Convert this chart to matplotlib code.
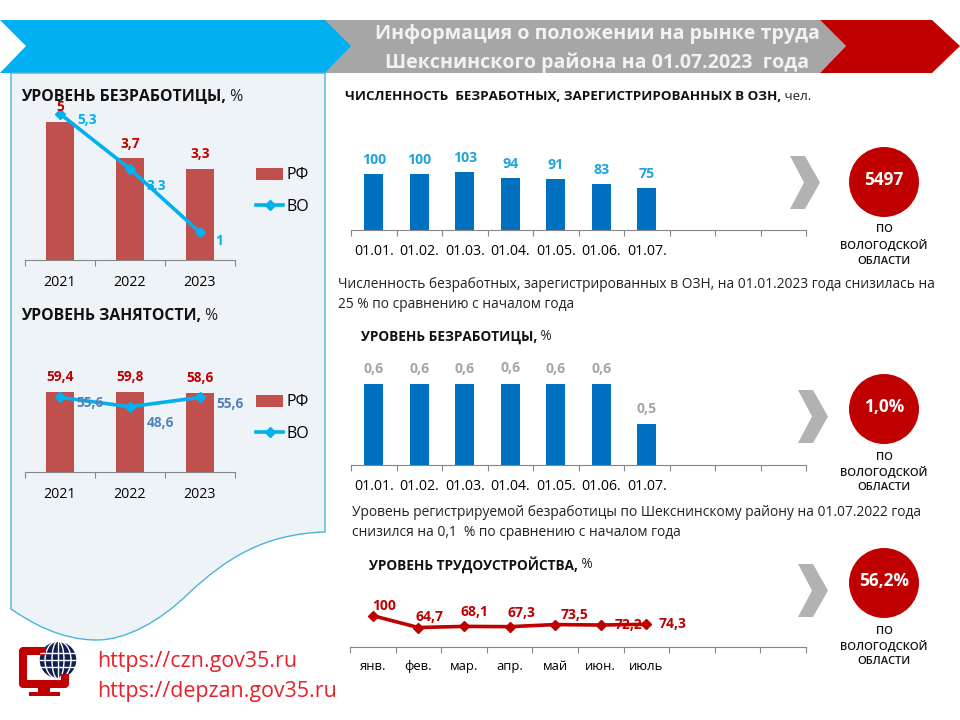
"""Labour market infographic, Sheksna district, 01.07.2023."""
import matplotlib
matplotlib.use("Agg")
import matplotlib.pyplot as plt
from matplotlib.patches import Circle, Ellipse, Polygon, PathPatch, Rectangle
from matplotlib.path import Path

plt.rcParams["font.family"] = ["Open Sans", "DejaVu Sans"]

YEARS = ["2021", "2022", "2023"]
UNEMP_RF = [5, 3.7, 3.3]
UNEMP_VO = [5.3, 3.3, 1]
EMPL_RF = [59.4, 59.8, 58.6]
EMPL_VO = [55.6, 48.6, 55.6]
DATES = ["01.01.", "01.02.", "01.03.", "01.04.", "01.05.", "01.06.", "01.07.", "", "", ""]
REGISTERED = [100, 100, 103, 94, 91, 83, 75]
UNEMP_DISTRICT = [0.6, 0.6, 0.6, 0.6, 0.6, 0.6, 0.5]
MONTHS = ["янв.", "фев.", "мар.", "апр.", "май", "июн.", "июль", "", "", ""]
PLACEMENT = [100, 64.7, 68.1, 67.3, 73.5, 72.2, 74.3]

RED = "#C00000"
BAR_RED = "#C0504D"
CYAN = "#00B0F0"
BLUE = "#0070C0"
AXIS = "#868686"


def lab(v):
    return f"{v:g}".replace(".", ",")


fig = plt.figure(figsize=(9.6, 7.2), dpi=100)
bg = fig.add_axes([0, 0, 1, 1])
bg.set_xlim(0, 960)
bg.set_ylim(720, 0)
bg.axis("off")


def chart_axes(left, right, top, base):
    ax = fig.add_axes([left / 960, 1 - base / 720, (right - left) / 960, (base - top) / 720])
    ax.patch.set_visible(False)
    for side in ("top", "left", "right"):
        ax.spines[side].set_visible(False)
    ax.spines["bottom"].set_color(AXIS)
    ax.yaxis.set_visible(False)
    return ax


def categories(ax, labels, size, pad):
    n = len(labels)
    ax.set_xlim(-0.5, n - 0.5)
    ax.set_xticks([i - 0.5 for i in range(n + 1)])
    ax.set_xticklabels([])
    ax.set_xticks(range(n), labels, minor=True)
    ax.tick_params(axis="x", which="major", length=4.5, color=AXIS)
    ax.tick_params(axis="x", which="minor", length=0, labelsize=size, pad=pad)


def labels(ax, xs, ys, offsets, color, size):
    for x, y, off in zip(xs, ys, offsets):
        ax.annotate(lab(y), (x, y), xytext=off, textcoords="offset pixels", color=color,
                    fontsize=size, fontweight="bold", ha="center", va="center",
                    annotation_clip=False)


def heading(x, y, bold, rest, size):
    t = bg.text(x, y, bold, fontsize=size, fontweight="bold", va="center", color="#111111")
    bg.annotate(" " + rest, xy=(1, 0.5), xycoords=t, fontsize=size, va="center", color="#222222")


def badge(cx, cy, value, chev_x, chev_y):
    x0, x1 = chev_x
    y0, y1 = chev_y
    ym = (y0 + y1) / 2
    bg.add_patch(Polygon([(x0, y0), (x0 + 15, y0), (x1, ym), (x0 + 15, y1), (x0, y1), (x0 + 14, ym)],
                         fc="#B2B2B2", ec="none"))
    bg.add_patch(Circle((cx, cy), 35, fc=RED, ec="none"))
    bg.text(cx, cy - 2, value, color="white", fontsize=12.4, fontweight="bold", ha="center", va="center")
    for dy, s in zip((48, 63, 79), ("ПО", "ВОЛОГОДСКОЙ", "ОБЛАСТИ")):
        bg.text(cx, cy + dy, s, fontsize=8, fontweight="semibold", ha="center", va="center", color="#111111")


# header arrows
bg.add_patch(Polygon([(325, 20), (820, 20), (846, 46), (820, 73), (325, 73)], fc="#A6A6A6", ec="none"))
bg.add_patch(Polygon([(820, 20), (932, 20), (960, 46), (932, 73), (820, 73), (846, 46)], fc=RED, ec="none"))
bg.add_patch(Polygon([(0, 20), (325, 20), (351, 46), (325, 73), (0, 73), (26, 46)], fc=CYAN, ec="none"))
bg.text(597, 34, "Информация о положении на рынке труда", color="#F2F2F2", fontsize=14.1,
        fontweight="bold", ha="center", va="center")
bg.text(597, 63, "Шекснинского района на 01.07.2023  года", color="#F2F2F2", fontsize=14.1,
        fontweight="bold", ha="center", va="center")

# left panel with the wavy bottom
panel = Path([(11, 73), (325, 73), (325, 532), (262, 534), (225, 560), (190, 592), (160, 622), (125, 640), (97, 640),
              (60, 640), (30, 622), (11, 609), (11, 73)],
             [Path.MOVETO, Path.LINETO, Path.LINETO, Path.CURVE4, Path.CURVE4, Path.CURVE4, Path.CURVE4, Path.CURVE4,
              Path.CURVE4, Path.CURVE4, Path.CURVE4, Path.CURVE4, Path.CLOSEPOLY])
bg.add_patch(PathPatch(panel, fc="#EEF3F8", ec="#4BB5D6", lw=1))

# left charts
for rf, vo, box, off_rf, off_vo, vo_col, top, leg_y in (
    (UNEMP_RF, UNEMP_VO, (100, 260), [(0, 15), (0, 14), (0, 15)], [(27, -6), (26, -17), (19, -9)], CYAN, 5.8, 191),
    (EMPL_RF, EMPL_VO, (378, 472), [(0, 15), (0, 15), (0, 15)], [(30, -6), (30, -16), (30, -7)], "#4F81BD", 70, 418),
):
    ax = chart_axes(25, 235, box[0], box[1])
    bars = ax.bar(range(3), rf, width=0.4, color=BAR_RED, label="РФ")
    line, = ax.plot(range(3), vo, color=CYAN, lw=2.6, marker="D", ms=5, label="ВО", clip_on=False)
    ax.set_ylim(0, top)
    categories(ax, YEARS, 10.2, 10.5)
    labels(ax, range(3), rf, off_rf, RED, 9.8)
    labels(ax, range(3), vo, off_vo, vo_col, 9.8)
    ax.legend([bars, line], ["РФ", "ВО"], loc="center left", bbox_to_anchor=(256, leg_y),
              bbox_transform=bg.transData, frameon=False, fontsize=11.5, handlelength=1.7,
              handleheight=0.8, handletextpad=0.2, labelspacing=0.95, borderpad=0, borderaxespad=0)

# registered unemployed
ax = chart_axes(351, 806, 163, 230)
ax.bar(range(7), REGISTERED, width=0.41, color=BLUE)
ax.set_ylim(0, 120)
categories(ax, DATES, 10.2, 10)
labels(ax, range(7), REGISTERED, [(0, 14)] * 7, "#1FA5DC", 10.2)

# district unemployment rate, axis does not start at zero
ax = chart_axes(351, 806, 343, 465)
ax.bar(range(7), UNEMP_DISTRICT, width=0.41, color=BLUE)
ax.set_ylim(0.4, 0.7)
categories(ax, DATES, 10.2, 10)
labels(ax, range(7), UNEMP_DISTRICT, [(0, 15)] * 3 + [(0, 16)] + [(0, 15)] * 3, "#A6A6A6", 10.2)

# job placement rate
ax = chart_axes(350, 806, 609, 647)
ax.plot(range(7), PLACEMENT, color=RED, lw=2.6, marker="D", ms=5.5, clip_on=False)
ax.set_ylim(6.6, 120)
categories(ax, MONTHS, 9.4, 9.5)
labels(ax, range(7), PLACEMENT, [(11, 10), (11, 11), (10, 14), (12, 14), (19, 10), (28, 0), (26, 0)], RED, 10)

# headings and notes
heading(21, 97, "УРОВЕНЬ БЕЗРАБОТИЦЫ,", "%", 11.4)
heading(21, 316, "УРОВЕНЬ ЗАНЯТОСТИ,", "%", 11.3)
heading(345, 96, "ЧИСЛЕННОСТЬ  БЕЗРАБОТНЫХ, ЗАРЕГИСТРИРОВАННЫХ В ОЗН,", "чел.", 9.6)
heading(361, 337, "УРОВЕНЬ БЕЗРАБОТИЦЫ,", "%", 9.8)
heading(369, 565, "УРОВЕНЬ ТРУДОУСТРОЙСТВА,", "%", 9.8)
for x, y, s in ((338, 285, "Численность безработных, зарегистрированных в ОЗН, на 01.01.2023 года снизилась на"),
                (338, 305, "25 % по сравнению с началом года"),
                (352, 512, "Уровень регистрируемой безработицы по Шекснинскому району на 01.07.2022 года"),
                (352, 532, "снизился на 0,1  % по сравнению с началом года")):
    bg.text(x, y, s, fontsize=9.95, va="center", color="#222222")

badge(884, 182, "5497", (790, 820), (156, 209))
badge(884, 409, "1,0%", (798, 828), (390, 443))
badge(884, 583, "56,2%", (798, 828), (564, 617))

# site icon and links
bg.plot([46, 23, 23, 65, 65], [651, 651, 684, 684, 674], color=RED, lw=5.8, solid_joinstyle="round",
        solid_capstyle="butt")
for r in ((38, 688, 12, 5), (29, 692, 31, 4)):
    bg.add_patch(Rectangle(r[:2], r[2], r[3], fc=RED, ec="none"))
globe = Circle((58, 660), 19, fc="#0F1F4F", ec="white", lw=1)
bg.add_patch(globe)
for w in (12, 26):
    e = Ellipse((58, 660), w, 38, fc="none", ec="white", lw=1)
    bg.add_patch(e)
    e.set_clip_path(globe)
for yy in (653, 660, 667):
    l, = bg.plot([39, 77], [yy, yy], color="white", lw=1)
    l.set_clip_path(globe)
bg.plot([58, 58], [641, 679], color="white", lw=1)
bg.text(97, 661, "https://czn.gov35.ru", color="#E8202A", fontsize=15.4, va="center")
bg.text(97, 692, "https://depzan.gov35.ru", color="#E8202A", fontsize=15.4, va="center")

fig.savefig("out.png", dpi=100)
